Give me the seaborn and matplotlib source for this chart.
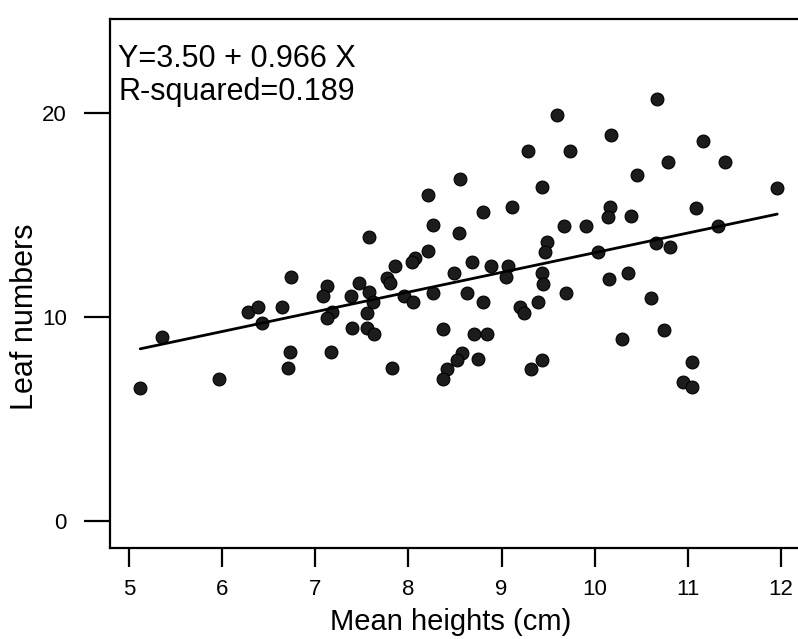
import matplotlib
matplotlib.use("Agg")
import matplotlib.pyplot as plt
import seaborn as sns
import pandas as pd
import numpy as np

# ---- data ----
mean_heights = [
    5.12, 5.35, 5.97, 6.28, 6.39, 6.43, 6.64, 6.74, 6.73, 6.71,
    7.13, 7.08, 7.18, 7.13, 7.17, 7.38, 7.39, 7.56, 7.63, 7.58,
    7.47, 7.77, 7.80, 7.58, 7.62, 7.56, 7.86, 7.82, 7.95, 8.05,
    8.07, 8.04, 8.21, 8.21, 8.26, 8.26, 8.37, 8.54, 8.55, 8.49,
    8.63, 8.68, 8.80, 8.80, 8.89, 8.70, 8.84, 8.58, 8.52, 8.75,
    8.41, 8.37, 9.07, 9.05, 9.11, 9.20, 9.24, 9.39, 9.28, 9.32,
    9.43, 9.43, 9.49, 9.47, 9.43, 9.45, 9.60, 9.67, 9.69, 9.74,
    9.91, 10.04, 10.15, 10.16, 10.14, 10.18, 10.29, 10.36, 10.39, 10.45,
    10.60, 10.66, 10.67, 10.74, 10.79, 10.81, 10.95, 11.05, 11.05, 11.09,
    11.16, 11.32, 11.40, 11.96,
]
leaf_numbers = [
    6.52, 9.02, 6.96, 10.25, 10.49, 9.71, 10.49, 11.96, 8.28, 7.50,
    11.52, 11.03, 10.25, 9.95, 8.28, 11.03, 9.46, 9.46, 9.17, 13.92,
    11.67, 11.91, 11.67, 11.23, 10.74, 10.20, 12.50, 7.50, 11.03, 10.74,
    12.89, 12.70, 13.24, 15.98, 14.51, 11.18, 9.41, 14.12, 16.76, 12.16,
    11.18, 12.70, 10.74, 15.15, 12.50, 9.17, 9.17, 8.24, 7.89, 7.94,
    7.45, 6.96, 12.50, 11.96, 15.39, 10.49, 10.20, 10.74, 18.14, 7.45,
    7.89, 16.37, 13.68, 13.19, 12.16, 11.62, 19.90, 14.46, 11.18, 18.14,
    14.46, 13.19, 11.86, 15.39, 14.90, 18.92, 8.92, 12.16, 14.95, 16.96,
    10.93, 13.63, 20.69, 9.36, 17.60, 13.43, 6.81, 6.57, 7.79, 15.34,
    18.63, 14.46, 17.60, 16.32,
]
intercept = 3.50
slope = 0.966
r_squared = 0.189

x_ticks = [5, 6, 7, 8, 9, 10, 11, 12]
y_ticks = [0, 10, 20]
x_label = "Mean heights (cm)"
y_label = "Leaf numbers"

df = pd.DataFrame({"x": mean_heights, "y": leaf_numbers})
xs = np.array([min(mean_heights), max(mean_heights)])
line_df = pd.DataFrame({"x": xs, "y": intercept + slope * xs})

sns.set_theme(style="white")
plt.rcParams["font.family"] = ["Liberation Sans", "DejaVu Sans"]

fig = plt.figure(figsize=(7.98, 6.39), dpi=100)
ax = fig.add_axes([110 / 798, 91 / 639, 688 / 798, 529 / 639])

sns.scatterplot(data=df, x="x", y="y", ax=ax, s=85, color="#1c1c1c",
                edgecolor="black", linewidth=0.8, zorder=3)
sns.lineplot(data=line_df, x="x", y="y", ax=ax, color="black", linewidth=2.0,
             zorder=4)

ax.set_xlim(4.796, 12.183)
ax.set_ylim(-1.32, 24.62)
ax.set_xticks(x_ticks)
ax.set_yticks(y_ticks)
ax.set_xticklabels([str(t) for t in x_ticks])
ax.set_yticklabels([str(t) for t in y_ticks])

for side in ["left", "bottom", "top"]:
    ax.spines[side].set_visible(True)
    ax.spines[side].set_color("black")
    ax.spines[side].set_linewidth(1.6)
ax.spines["right"].set_visible(False)

ax.tick_params(axis="y", direction="out", length=19, width=1.6, pad=12,
               labelsize=16, colors="black", left=True)
ax.tick_params(axis="x", direction="out", length=14, width=1.6, pad=8,
               labelsize=16, colors="black", bottom=True)

ax.set_xlabel(x_label, fontsize=21, color="black")
ax.set_ylabel(y_label, fontsize=22, color="black")
ax.xaxis.set_label_coords(0.4955, -0.113)
ax.yaxis.set_label_coords(-0.102, 0.438)

ax.text(0.012, 0.952, f"Y={intercept:.2f} + {slope:.3f} X\nR-squared={r_squared:.3f}",
        transform=ax.transAxes, ha="left", va="top", fontsize=22,
        linespacing=1.1, color="black")

fig.savefig("out.png", dpi=100)
